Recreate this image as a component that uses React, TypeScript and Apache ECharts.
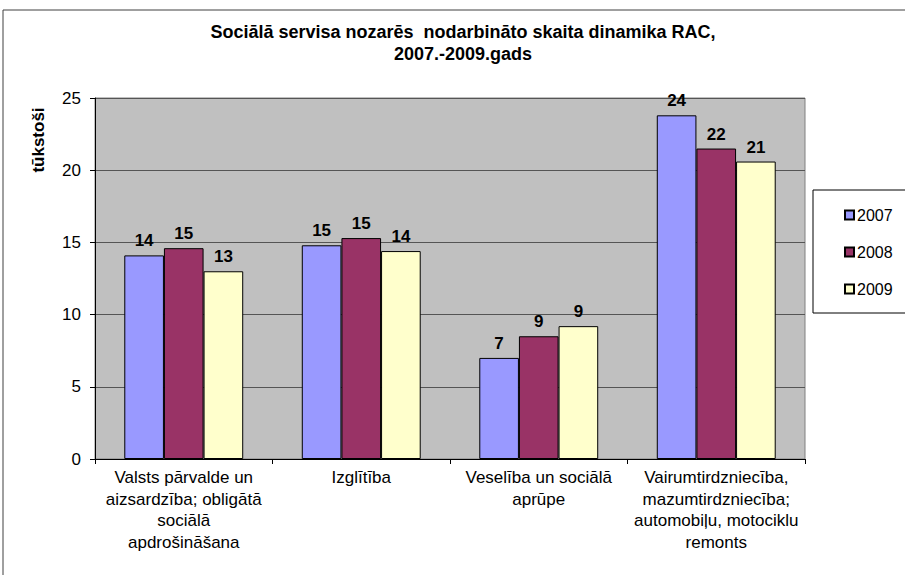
import React, { useEffect, useRef } from "react";
import * as echarts from "echarts";

const titleLines = ["Sociālā servisa nozarēs  nodarbināto skaita dinamika RAC,", "2007.-2009.gads"];
const yAxisName = "tūkstoši";
const categories = [
  "Valsts pārvalde un\naizsardzība; obligātā\nsociālā\napdrošināšana",
  "Izglītība",
  "Veselība un sociālā\naprūpe",
  "Vairumtirdzniecība,\nmazumtirdzniecība;\nautomobiļu, motociklu\nremonts",
];
const seriesNames = ["2007", "2008", "2009"];
const values2007 = [14.1, 14.8, 7.0, 23.8];
const values2008 = [14.6, 15.3, 8.5, 21.5];
const values2009 = [13.0, 14.4, 9.2, 20.6];
const seriesColors = ["#9999FF", "#993366", "#FFFFCC"];

export default function App() {
  const ref = useRef<HTMLDivElement>(null);
  useEffect(() => {
    document.body.style.margin = "0";
    const chart = echarts.init(ref.current!, null, { renderer: "svg" });
    const font = "'Liberation Sans', Arial, sans-serif";
    const data = [values2007, values2008, values2009];
    chart.setOption({
      animation: false,
      textStyle: { fontFamily: font },
      graphic: [
        {
          type: "rect",
          shape: { x: 3, y: 10, width: 920, height: 600 },
          style: { fill: "none", stroke: "#404040", lineWidth: 1 },
          silent: true,
          z: -10,
        },
        {
          type: "text",
          x: 463,
          y: 32,
          style: {
            text: titleLines[0],
            font: `bold 18px ${font}`,
            fill: "#000",
            textAlign: "center",
            textVerticalAlign: "middle",
          },
        },
        {
          type: "text",
          x: 463,
          y: 54,
          style: {
            text: titleLines[1],
            font: `bold 18px ${font}`,
            fill: "#000",
            textAlign: "center",
            textVerticalAlign: "middle",
          },
        },
        {
          type: "text",
          x: 38,
          y: 140,
          rotation: Math.PI / 2,
          style: {
            text: yAxisName,
            font: `bold 17px ${font}`,
            fill: "#000",
            textAlign: "center",
            textVerticalAlign: "middle",
          },
        },
        {
          type: "rect",
          shape: { x: 813, y: 190, width: 100, height: 123 },
          style: { fill: "#fff", stroke: "#000", lineWidth: 1 },
          z: 0,
        },
      ],
      legend: {
        orient: "vertical",
        left: 839,
        top: 202,
        itemWidth: 9,
        itemHeight: 9,
        itemGap: 21,
        icon: "rect",
        data: seriesNames,
        textStyle: { fontFamily: font, fontSize: 16, color: "#000", padding: [0, 0, 0, -2] },
        z: 5,
      },
      grid: {
        left: 95,
        right: 100,
        top: 98,
        bottom: 116,
        show: true,
        backgroundColor: "#C0C0C0",
        borderColor: "#808080",
        borderWidth: 1,
      },
      xAxis: {
        type: "category",
        data: categories,
        axisLine: { lineStyle: { color: "#000", width: 1 } },
        axisTick: { show: true, alignWithLabel: false, length: 5, lineStyle: { color: "#000" } },
        axisLabel: {
          interval: 0,
          fontFamily: font,
          fontSize: 17,
          color: "#000",
          lineHeight: 21.5,
          margin: 8,
        },
      },
      yAxis: {
        type: "value",
        min: 0,
        max: 25,
        interval: 5,
        axisLine: { show: true, lineStyle: { color: "#000", width: 1 } },
        axisTick: { show: true, length: 5, lineStyle: { color: "#000" } },
        axisLabel: { fontFamily: font, fontSize: 17, color: "#000", margin: 14 },
        splitLine: { show: true, lineStyle: { color: "#555", width: 1 } },
      },
      series: seriesNames.map((name, i) => ({
        name,
        type: "bar",
        data: data[i],
        barGap: "0%",
        barCategoryGap: "33%",
        itemStyle: { color: seriesColors[i], borderColor: "#000", borderWidth: 1 },
        label: {
          show: true,
          position: "top",
          distance: 6,
          fontFamily: font,
          fontSize: 17,
          fontWeight: "bold",
          color: "#000",
          formatter: (p: any) => String(Math.round(p.value)),
        },
      })),
    });
    return () => chart.dispose();
  }, []);
  return <div ref={ref} style={{ width: 905, height: 575 }} />;
}
